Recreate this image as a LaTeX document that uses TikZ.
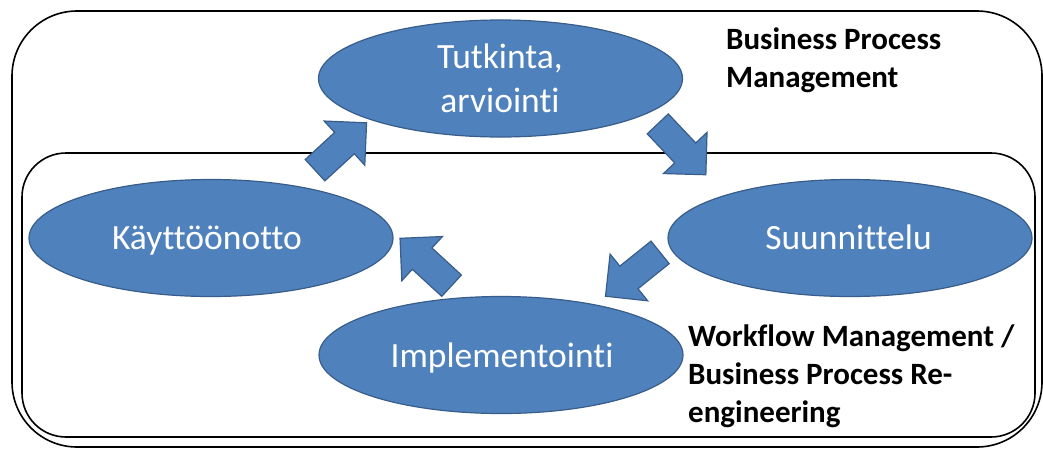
\documentclass[tikz,border=0pt]{standalone}
\usepackage{fontspec}
\setmainfont{Carlito}[Ligatures={NoCommon}]
\usetikzlibrary{shapes.geometric}
\definecolor{fillblue}{HTML}{4F81BD}
\definecolor{edgeblue}{HTML}{385D8A}
\begin{document}
\begin{tikzpicture}[x=1pt,y=-1pt,
  phase/.style={ellipse, fill=fillblue, draw=edgeblue, line width=1.2pt,
    minimum width=364pt, minimum height=117pt, inner sep=0pt},
  phasetext/.style={text=white, font=\fontsize{35.5}{44}\selectfont, anchor=base, inner sep=0pt},
  frametext/.style={font=\bfseries\fontsize{31}{38}\selectfont, anchor=base west, inner sep=0pt},
  frameline/.style={draw=black, line width=1.6pt},
  blockarrow/.style={fill=fillblue, draw=edgeblue, line width=1.2pt, line join=miter},
  blockarr/.pic={\draw[blockarrow] (-35,-14.5) -- (5,-14.5) -- (5,-30) -- (35,0) -- (5,30) -- (5,14.5) -- (-35,14.5) -- cycle;}
]
\useasboundingbox (0,0) rectangle (1043,448);
% frames
\draw[frameline, rounded corners=65pt] (12,11) rectangle (1042,447);
\draw[frameline, rounded corners=44pt] (22,153) rectangle (1035,437);
% phases
\node[phase] (tut) at (500.5,78.5) {};
\node[phase] (kay) at (211,238) {};
\node[phase] (suu) at (850,238) {};
\node[phase] (imp) at (501,355) {};
\node[phasetext] (tuttext) at (500,68) {\begin{tabular}[t]{@{}c@{}}Tutkinta,\\arviointi\end{tabular}};
\node[phasetext] (kaytext) at (207,249.5) {Käyttöönotto};
\node[phasetext] (suutext) at (848.5,249.5) {Suunnittelu};
\node[phasetext] (imptext) at (502,367.5) {Implementointi};
% block arrows
\pic[rotate=42.6] at (340.8,146.5) {blockarr};
\pic[rotate=-46.6] at (681.8,149.3) {blockarr};
\pic[rotate=-141.2] at (632.8,274.3) {blockarr};
\pic[rotate=137.4] at (425.8,262) {blockarr};
% labels
\node[frametext] (bpm) at (726,49) {\begin{tabular}[t]{@{}l@{}}Business Process\\Management\end{tabular}};
\node[frametext] (wfm) at (688,346) {\begin{tabular}[t]{@{}l@{}}Workflow Management /\\Business Process Re-\\engineering\end{tabular}};
\end{tikzpicture}
\end{document}
